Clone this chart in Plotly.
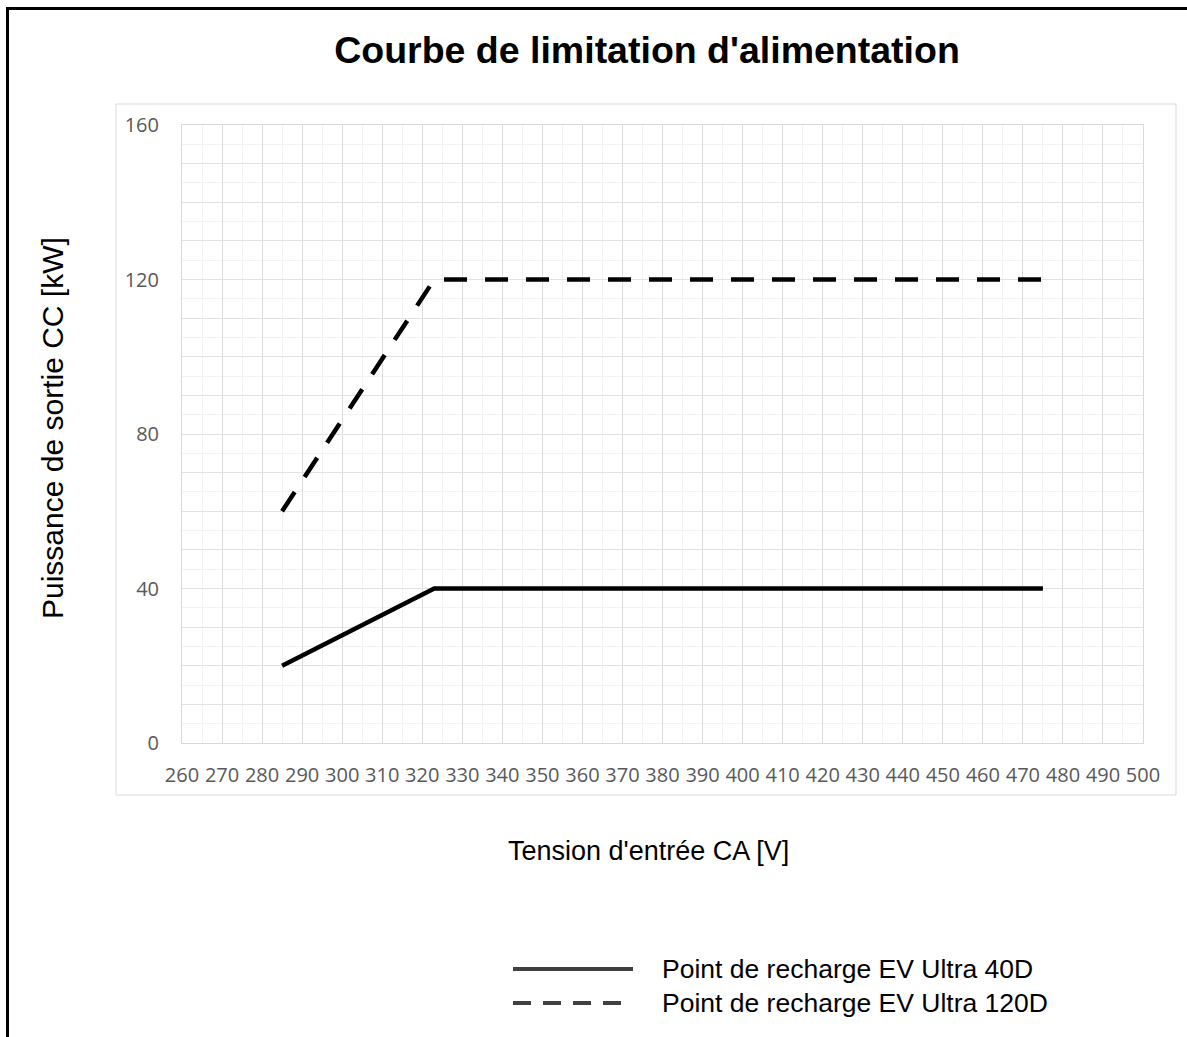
import plotly.graph_objects as go

# ---- data ----
voltage_40d = [285, 323, 475]
power_40d = [20, 40, 40]
voltage_120d = [285, 323, 475]
power_120d = [60, 120, 120]

x_ticks = list(range(260, 501, 10))
x_tick_labels = [str(v) for v in x_ticks]
y_ticks = list(range(0, 161, 10))
y_tick_labels = [str(v) if v % 40 == 0 else "" for v in y_ticks]

series_names = ["Point de recharge EV Ultra 40D", "Point de recharge EV Ultra 120D"]
title_text = "Courbe de limitation d'alimentation"
x_title = "Tension d'entrée CA [V]"
y_title = "Puissance de sortie CC [kW]"

# ---- layout geometry (pixels) ----
WIDTH, HEIGHT = 1187, 1037
ML, MR, MT, MB = 182, 44, 125, 294
PW = WIDTH - ML - MR
PH = HEIGHT - MT - MB


def px(xp):
    return (xp - ML) / PW


def py(yp):
    return (HEIGHT - MB - yp) / PH


fig = go.Figure()
fig.add_trace(go.Scatter(
    x=voltage_40d, y=power_40d, mode="lines", name=series_names[0],
    line=dict(color="#000000", width=4.5), showlegend=False,
))
fig.add_trace(go.Scatter(
    x=voltage_120d, y=power_120d, mode="lines", name=series_names[1],
    line=dict(color="#000000", width=4.5, dash="23px,18px"), showlegend=False,
))

tick_font = dict(family="Open Sans", size=20, color="#595959")
fig.update_xaxes(
    range=[260, 500], tickmode="array", tickvals=x_ticks, ticktext=x_tick_labels,
    showgrid=True, gridcolor="#dcdcdc", gridwidth=1,
    minor=dict(dtick=5, showgrid=True, gridcolor="#f2f2f2", gridwidth=1),
    showline=True, linecolor="#d9d9d9", linewidth=1, mirror=True,
    zeroline=False, ticks="", tickfont=tick_font, ticklabelstandoff=14,
    automargin=False,
)
fig.update_yaxes(
    range=[0, 160], tickmode="array", tickvals=y_ticks, ticktext=y_tick_labels,
    showgrid=True, gridcolor="#e2e2e2", gridwidth=1,
    minor=dict(dtick=5, showgrid=True, gridcolor="#f2f2f2", gridwidth=1),
    showline=True, linecolor="#d9d9d9", linewidth=1, mirror=True,
    zeroline=False, ticks="", tickfont=tick_font, ticklabelstandoff=18,
    automargin=False,
)

shapes = [
    # chart area border
    dict(type="rect", xref="paper", yref="paper", x0=px(116), x1=px(1176), y0=py(795), y1=py(104),
         line=dict(color="#d9d9d9", width=1), layer="below"),
    # outer black frame (left & top)
    dict(type="line", xref="paper", yref="paper", x0=px(7.5), x1=px(7.5), y0=py(1040), y1=py(8.5),
         line=dict(color="#000000", width=3)),
    dict(type="line", xref="paper", yref="paper", x0=px(6), x1=px(1190), y0=py(8.5), y1=py(8.5),
         line=dict(color="#000000", width=3)),
    # custom legend samples
    dict(type="line", xref="paper", yref="paper", x0=px(513), x1=px(633), y0=py(969), y1=py(969),
         line=dict(color="#404040", width=4)),
    dict(type="line", xref="paper", yref="paper", x0=px(513), x1=px(633), y0=py(1003), y1=py(1003),
         line=dict(color="#404040", width=4, dash="18px,12px")),
]

annotations = [
    dict(text=x_title, xref="paper", yref="paper", x=px(648), y=py(851), showarrow=False,
         xanchor="center", yanchor="middle",
         font=dict(family="Liberation Sans", size=27, color="#000000")),
    dict(text=y_title, xref="paper", yref="paper", x=px(52), y=py(428), showarrow=False,
         xanchor="center", yanchor="middle", textangle=-90,
         font=dict(family="Liberation Sans", size=30, color="#000000")),
    dict(text=series_names[0], xref="paper", yref="paper", x=px(660), y=py(969), showarrow=False,
         xanchor="left", yanchor="middle",
         font=dict(family="Liberation Sans", size=26.5, color="#000000")),
    dict(text=series_names[1], xref="paper", yref="paper", x=px(660), y=py(1003), showarrow=False,
         xanchor="left", yanchor="middle",
         font=dict(family="Liberation Sans", size=26.5, color="#000000")),
]

fig.update_layout(
    width=WIDTH, height=HEIGHT,
    margin=dict(l=ML, r=MR, t=MT, b=MB, autoexpand=False),
    paper_bgcolor="#ffffff", plot_bgcolor="#ffffff",
    title=dict(text="<b>" + title_text + "</b>", x=647 / WIDTH, xanchor="center",
               y=1 - 50 / HEIGHT, yanchor="middle",
               font=dict(family="Liberation Sans", size=37.5, color="#000000")),
    shapes=shapes, annotations=annotations, showlegend=False,
)

fig.write_html(
    "out.html",
    config={"displayModeBar": False},
    post_script="document.body.style.margin='0';document.body.style.overflow='hidden';",
)
